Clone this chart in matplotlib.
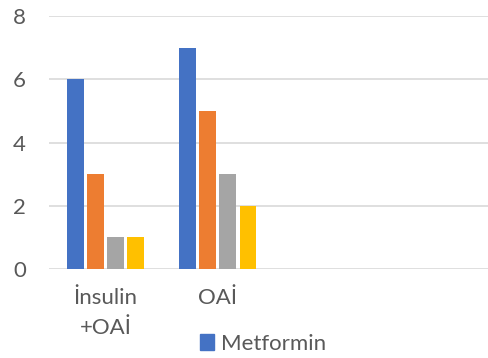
import numpy as np
import matplotlib
matplotlib.use("Agg")
import matplotlib.pyplot as plt
from matplotlib.patches import Patch

categories = ["İnsulin\n+OAİ", "OAİ", "", ""]
series_names = ["Metformin", "Seri 2", "Seri 3", "Seri 4"]
series_values = [
    [6, 7, None, None],
    [3, 5, None, None],
    [1, 3, None, None],
    [1, 2, None, None],
]
colors = ["#4472C4", "#ED7D31", "#A5A5A5", "#FFC000"]
y_ticks = [0, 2, 4, 6, 8]

plt.rcParams['font.family'] = ['Lato', 'DejaVu Sans']
text_color = "#595959"
fs = 16

fig = plt.figure(figsize=(4.89, 3.58), dpi=100)
ax = fig.add_axes([0.101, 0.2486, 0.899, 0.7067])

x = np.arange(len(categories))
pitch = 0.179
width = 0.146
for i, (name, vals, c) in enumerate(zip(series_names, series_values, colors)):
    xs = [xi for xi, v in zip(x, vals) if v is not None]
    ys = [v for v in vals if v is not None]
    ax.bar(np.array(xs) + (i - 1.5) * pitch, ys, width=width, color=c, label=name, zorder=3)

ax.set_xlim(-0.5, 3.42)
ax.set_ylim(0, 8)
ax.set_yticks(y_ticks)
ax.yaxis.grid(True, color="#D9D9D9", linewidth=1.2, zorder=0)
for s in ax.spines.values():
    s.set_visible(False)
ax.tick_params(axis="y", length=0, pad=17, labelsize=fs, labelcolor=text_color)
ax.tick_params(axis="x", length=0, pad=14, labelsize=fs, labelcolor=text_color)
ax.set_xticks(x[:2])
ax.set_xticklabels(categories[:2], linespacing=1.6, va="top")
for lbl in ax.get_yticklabels():
    lbl.set_horizontalalignment("right")

# only the first legend entry fits in the visible area
fig.legend(handles=[Patch(color=colors[0], label=series_names[0])],
           loc="center left", bbox_to_anchor=(0.408, 0.04), frameon=False,
           fontsize=fs, labelcolor=text_color, handlelength=0.65, handleheight=0.75,
           handletextpad=0.3, borderpad=0, borderaxespad=0)

fig.savefig("out.png", dpi=100)
